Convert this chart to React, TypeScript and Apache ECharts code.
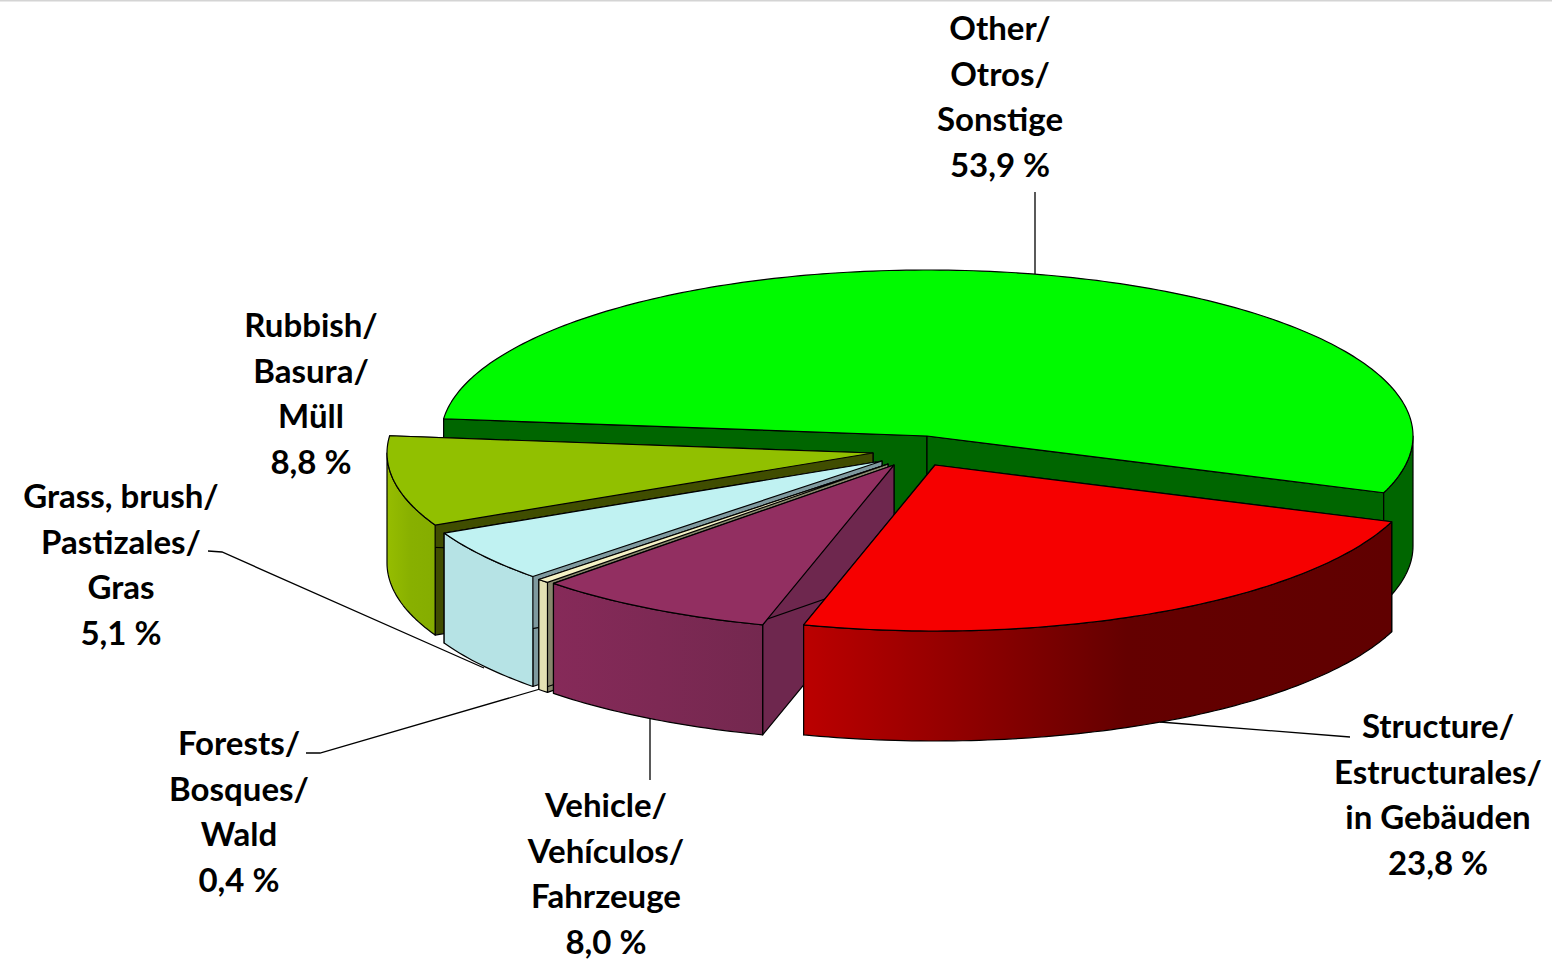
import React, { useEffect, useRef } from "react";
import * as echarts from "echarts";

// Data, in drawing order (back to front)
const NAMES = ["Other", "Rubbish", "Grass", "Forests", "Vehicle", "Structure"];
const PERCENTS = [53.9, 8.8, 5.1, 0.4, 8.0, 23.8];
const LABEL_LINES = [
  ["Other/", "Otros/", "Sonstige"],
  ["Rubbish/", "Basura/", "Müll"],
  ["Grass, brush/", "Pastizales/", "Gras"],
  ["Forests/", "Bosques/", "Wald"],
  ["Vehicle/", "Vehículos/", "Fahrzeuge"],
  ["Structure/", "Estructurales/", "in Gebäuden"],
];

// Layout
const RX = 486;
const RY = 166;
const DEPTH = 110;
const FIRST_END_ANGLE = 20;
const APEXES = [
  [927, 436],
  [873, 453],
  [882, 461],
  [888, 464],
  [894, 465],
  [935, 465],
];
const LABEL_POS = [
  [1000, 95.5],
  [311, 392.5],
  [121, 563.5],
  [239, 810.5],
  [606, 872.5],
  [1438, 793.5],
];
const LEADERS = [
  [[1035, 192], [1035, 274]],
  [[208, 551], [222, 552], [484, 668]],
  [[306, 753], [320, 753], [540, 689]],
  [[650, 716], [650, 780]],
  [[1160, 722], [1350, 737]],
];

// Styles
const TOP_COLORS = ["#00fa00", "#91c000", "#c0f2f2", "#f5f2c5", "#922f61", "#f60000"];
const CUT_COLORS = ["#006600", "#404d00", "#7f9a9f", "#87876c", "#6e274e", "#8a0000"];
const WALL_STOPS = [
  [[0, "#006600"], [1, "#006600"]],
  [[0, "#96bd00"], [0.5, "#88b000"], [1, "#85ad00"]],
  [[0, "#b6e3e5"], [1, "#b6e3e5"]],
  [[0, "#e3e1b3"], [1, "#e3e1b3"]],
  [[0, "#862a59"], [1, "#74284f"]],
  [[0, "#bb0000"], [0.55, "#640000"], [1, "#600000"]],
];

const FONT = "Lato, 'Open Sans', sans-serif";
const STROKE = { stroke: "#000", lineWidth: 1.2, lineJoin: "round" as const };

// Slice spans in degrees, clockwise on screen, 0 = screen right.
function spans() {
  const out: [number, number][] = [];
  let end = FIRST_END_ANGLE;
  PERCENTS.forEach((p, i) => {
    const start = end - p * 3.6;
    out.push([start, end]);
    end = i === 0 ? start + 360 : start;
  });
  return out;
}

const pt = (c: number[], a: number, dy = 0) => {
  const r = (a * Math.PI) / 180;
  return [c[0] + RX * Math.cos(r), c[1] + RY * Math.sin(r) + dy];
};

const arc = (c: number[], s: number, e: number, dy = 0) => {
  const n = Math.max(2, Math.ceil(Math.abs(e - s)));
  const pts: number[][] = [];
  for (let i = 0; i <= n; i++) pts.push(pt(c, s + ((e - s) * i) / n, dy));
  return pts;
};

function renderSlice(params: any, api: any) {
  const i = params.dataIndex;
  const c = APEXES[i];
  const span = api.value(0) * 3.6;
  const end = spans()[i][1];
  const start = end - span;
  const children: any[] = [];

  // cut faces, extruded from the two radial edges
  [start, end].forEach((a) => {
    const o = pt(c, a);
    children.push({
      type: "polygon",
      shape: { points: [c, o, [o[0], o[1] + DEPTH], [c[0], c[1] + DEPTH]] },
      style: { fill: CUT_COLORS[i], ...STROKE },
    });
  });

  // outer wall: only the part on the near half of the ellipse
  const s = Math.max(start, 0);
  const e = Math.min(end, 180);
  if (e > s) {
    const x0 = pt(c, e)[0];
    const x1 = pt(c, s)[0];
    children.push({
      type: "polygon",
      shape: { points: [...arc(c, s, e), ...arc(c, e, s, DEPTH)] },
      style: {
        fill: {
          type: "linear",
          x: x0,
          y: 0,
          x2: x1,
          y2: 0,
          global: true,
          colorStops: WALL_STOPS[i].map(([offset, color]) => ({ offset, color })),
        },
        ...STROKE,
      },
    });
  }

  // top
  children.push({
    type: "polygon",
    shape: { points: [c, ...arc(c, start, end)] },
    style: { fill: TOP_COLORS[i], ...STROKE },
  });

  return { type: "group", children };
}

export default function App() {
  const ref = useRef<HTMLDivElement>(null);
  useEffect(() => {
    const chart = echarts.init(ref.current!, null, { renderer: "svg" });
    const texts = LABEL_LINES.map((lines, i) => ({
      type: "text",
      x: LABEL_POS[i][0],
      y: LABEL_POS[i][1],
      z: 10,
      style: {
        text: [...lines, `${PERCENTS[i].toFixed(1).replace(".", ",")} %`].join("\n"),
        font: `bold 33px ${FONT}`,
        fill: "#000",
        align: "center",
        verticalAlign: "middle",
        lineHeight: 45.7,
      },
    }));
    const lines = LEADERS.map((points) => ({
      type: "polyline",
      z: -1,
      shape: { points },
      style: { stroke: "#000", lineWidth: 1.3, fill: "none" },
    }));
    chart.setOption({
      animation: false,
      backgroundColor: "#fff",
      graphic: {
        elements: [
          {
            type: "rect",
            z: -1,
            shape: { x: 0, y: 0, width: 1552, height: 1.5 },
            style: { fill: "#d4d4d4" },
          },
          ...lines,
          ...texts,
        ],
      },
      series: [
        {
          type: "custom",
          coordinateSystem: "none",
          silent: true,
          z: 2,
          renderItem: renderSlice,
          data: NAMES.map((name, i) => ({ name, value: [PERCENTS[i]] })),
        },
      ],
    });
    return () => chart.dispose();
  }, []);
  return (
    <div
      ref={ref}
      style={{ position: "fixed", left: 0, top: 0, width: 1552, height: 960 }}
    />
  );
}
